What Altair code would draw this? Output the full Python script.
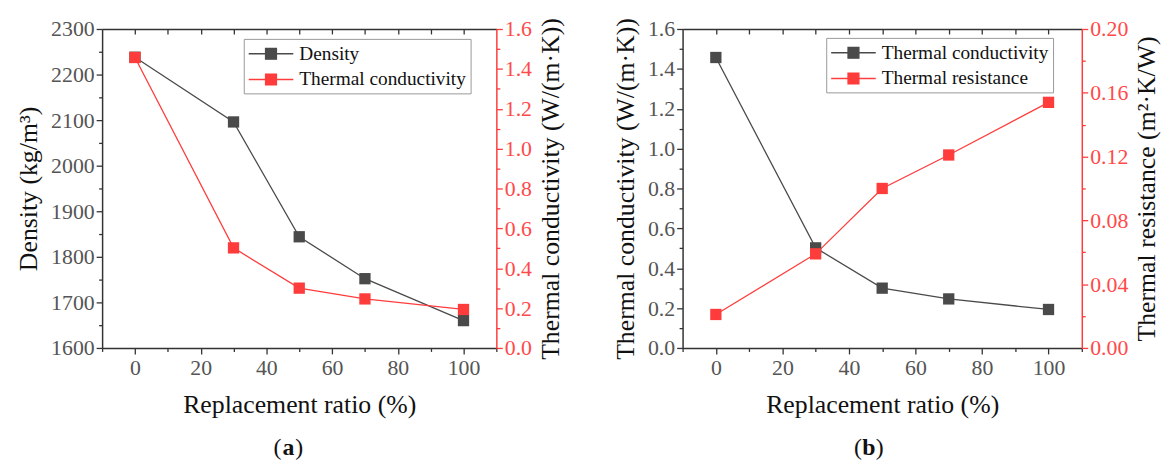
import altair as alt
import pandas as pd

# ---------------- data ----------------
RATIO = [0, 30, 50, 70, 100]
DENSITY = [2238, 2096, 1844, 1752, 1660]
COND = [1.457, 0.502, 0.300, 0.246, 0.193]
RESIST = [0.021, 0.059, 0.100, 0.121, 0.154]

SERIES_A = ["Density", "Thermal conductivity"]
SERIES_B = ["Thermal conductivity", "Thermal resistance"]
PANEL_LETTERS = ["a", "b"]

X_MAJOR = [0, 20, 40, 60, 80, 100]
X_MINOR = [-10, 10, 30, 50, 70, 90, 110]
X_TOP = [0, 10, 20, 30, 40, 50, 60, 70, 80, 90, 100]
DENS_MAJOR = [1600, 1700, 1800, 1900, 2000, 2100, 2200, 2300]
DENS_MINOR = [1650, 1750, 1850, 1950, 2050, 2150, 2250]
COND_MAJOR = [0.0, 0.2, 0.4, 0.6, 0.8, 1.0, 1.2, 1.4, 1.6]
COND_MINOR = [0.1, 0.3, 0.5, 0.7, 0.9, 1.1, 1.3, 1.5]
RES_MAJOR = [0.0, 0.04, 0.08, 0.12, 0.16, 0.20]
RES_MINOR = [0.02, 0.06, 0.10, 0.14, 0.18]

X_TITLE = "Replacement ratio (%)"

# ---------------- style ----------------
FONT = "Liberation Serif"
GRAY = "#4a4a4a"
RED = "#ff3c3c"
RED_TXT = "#ff4a4a"
AXIS_C = "#333333"
LABEL_C = "#555555"


def panel(left_vals, right_vals, names, ldom, rdom, lmaj, lmin, rmaj, rmin,
          lfmt, rfmt, ltitle, rtitle, letter, w, h, leg_x, leg_y):
    dl = pd.DataFrame({"x": RATIO, "v": left_vals, "s": names[0]})
    dr = pd.DataFrame({"x": RATIO, "v": right_vals, "s": names[1]})
    xs = alt.Scale(domain=[-10, 110], nice=False, zero=False)
    yls = alt.Scale(domain=ldom, nice=False, zero=False)
    yrs = alt.Scale(domain=rdom, nice=False, zero=False)
    cs = alt.Scale(domain=names, range=[GRAY, RED])
    stroke_expr = "datum.value == '%s' ? '%s' : '%s'" % (names[0], GRAY, RED)
    legend = alt.Legend(
        title=None, orient="none", legendX=leg_x, legendY=leg_y,
        symbolType="M-1,0H0.75M1.75,0H3.5M0.7,-0.55H1.8V0.55H0.7Z",
        symbolSize=400, symbolStrokeWidth=1.3,
        symbolStrokeColor=alt.ExprRef(stroke_expr),
        labelOffset=30, labelFont=FONT, labelFontSize=19.5, labelColor="#111",
        labelLimit=400,
        strokeColor="#999999", padding=4, rowPadding=5,
    )

    x_bottom = alt.Axis(orient="bottom", values=X_MAJOR, format="d", tickSize=6,
                        labelPadding=4, title=X_TITLE, titlePadding=13)
    y_left = alt.Axis(orient="left", values=lmaj, format=lfmt, tickSize=6,
                      labelPadding=2, title=ltitle, titlePadding=9)
    y_right = alt.Axis(orient="right", values=rmaj, format=rfmt, tickSize=6,
                       labelPadding=2, title=rtitle, titlePadding=6, titleAngle=270,
                       titleBaseline="top",
                       domainColor=RED, tickColor=RED, labelColor=RED_TXT)

    l_line = alt.Chart(dl).mark_line(color=GRAY, strokeWidth=1.3).encode(
        x=alt.X("x:Q", scale=xs, axis=x_bottom),
        y=alt.Y("v:Q", scale=yls, axis=y_left),
    )
    r_line = alt.Chart(dr).mark_line(color=RED, strokeWidth=1.3).encode(
        x=alt.X("x:Q", scale=xs, axis=None),
        y=alt.Y("v:Q", scale=yrs, axis=y_right),
    )
    l_pts = alt.Chart(dl).mark_point(shape="square", filled=True, size=130, opacity=1).encode(
        x=alt.X("x:Q", scale=xs, axis=None),
        y=alt.Y("v:Q", scale=yls, axis=None),
        color=alt.Color("s:N", scale=cs, legend=legend),
    )
    r_pts = alt.Chart(dr).mark_point(shape="square", filled=True, size=130, opacity=1).encode(
        x=alt.X("x:Q", scale=xs, axis=None),
        y=alt.Y("v:Q", scale=yrs, axis=None),
        color=alt.Color("s:N", scale=cs, legend=legend),
    )
    # minor ticks: bottom x + left y
    minor_l = alt.Chart(dl).mark_point(opacity=0).encode(
        x=alt.X("x:Q", scale=xs, axis=alt.Axis(orient="bottom", values=X_MINOR, tickSize=3.5,
                                               labels=False, domain=False, title=None)),
        y=alt.Y("v:Q", scale=yls, axis=alt.Axis(orient="left", values=lmin, tickSize=3.5,
                                                labels=False, domain=False, title=None)),
    )
    # top inward ticks + right minor ticks
    minor_r = alt.Chart(dr).mark_point(opacity=0).encode(
        x=alt.X("x:Q", scale=xs, axis=alt.Axis(orient="top", values=X_TOP, tickSize=5, offset=-5,
                                               labels=False, domain=False, title=None)),
        y=alt.Y("v:Q", scale=yrs, axis=alt.Axis(orient="right", values=rmin, tickSize=3.5,
                                                labels=False, domain=False, title=None,
                                                tickColor=RED)),
    )
    # top border line
    top_dom = alt.Chart(dl).mark_point(opacity=0).encode(
        x=alt.X("x:Q", scale=xs, axis=alt.Axis(orient="top", ticks=False, labels=False,
                                               domain=True, title=None)),
        y=alt.Y("v:Q", scale=yls, axis=None),
    )
    lab = pd.DataFrame({"t": [letter]})
    lp = alt.Chart(lab).mark_text(text="(", font=FONT, fontSize=24, align="right", color="#111").encode(
        x=alt.value(181), y=alt.value(h + 101))
    lt = alt.Chart(lab).mark_text(font=FONT, fontSize=24, fontWeight="bold", align="center", color="#111").encode(
        text="t:N", x=alt.value(188), y=alt.value(h + 101))
    rp = alt.Chart(lab).mark_text(text=")", font=FONT, fontSize=24, align="left", color="#111").encode(
        x=alt.value(195), y=alt.value(h + 101))

    return alt.layer(
        minor_l, minor_r, top_dom, l_line, r_line, l_pts, r_pts, lp, lt, rp
    ).resolve_scale(y="independent").resolve_axis(x="independent", y="independent").properties(
        width=w, height=h
    )


pa = panel(DENSITY, COND, SERIES_A, [1600, 2300], [0, 1.6], DENS_MAJOR, DENS_MINOR,
           COND_MAJOR, COND_MINOR, "d", ".1f", "Density (kg/m³)",
           "Thermal conductivity (W/(m·K))", PANEL_LETTERS[0], 398, 322, 143, 10)
pb = panel(COND, RESIST, SERIES_B, [0, 1.6], [0, 0.2], COND_MAJOR, COND_MINOR,
           RES_MAJOR, RES_MINOR, ".1f", ".2f", "Thermal conductivity (W/(m·K))",
           "Thermal resistance (m²·K/W)", PANEL_LETTERS[1], 403, 322, 145, 9)

chart = alt.hconcat(pa, pb, spacing=188, bounds="flush").resolve_scale(
    color="independent"
).properties(
    padding={"left": 7, "top": 6, "right": 5, "bottom": 5},
    background="white",
).configure_view(stroke="transparent").configure_axis(
    labelFont=FONT, titleFont=FONT, labelFontSize=22, titleFontSize=26,
    labelColor=LABEL_C, titleColor="#111", domainColor=AXIS_C, tickColor=AXIS_C,
    domainWidth=1.5, tickWidth=1.3, grid=False, titleFontWeight="normal",
).configure_legend(
    labelFont=FONT, labelFontSize=19.5, labelColor="#111",
).configure_text(font=FONT)

chart.save("out.html", embed_options={"renderer": "svg", "actions": False})
